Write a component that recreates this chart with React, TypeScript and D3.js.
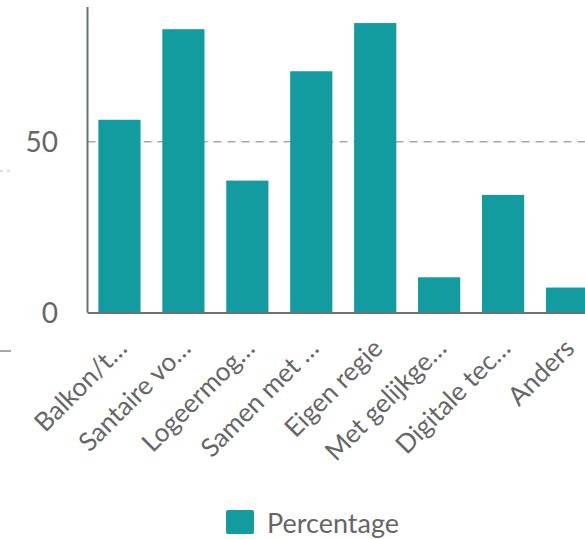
import React from "react";
import * as d3 from "d3";

const categories = [
  "Balkon/t…",
  "Santaire vo…",
  "Logeermog…",
  "Samen met …",
  "Eigen regie",
  "Met gelijkge…",
  "Digitale tec…",
  "Anders",
];
const percentages = [56.4, 82.9, 38.6, 70.6, 84.7, 10.3, 34.4, 7.3];
const yTicks = [0, 50];
const seriesName = "Percentage";

const W = 585;
const H = 539;
const BAR = "#129c9f";
const TEXT = "#666666";
const FONT = "Lato, 'Open Sans', sans-serif";

export default function App() {
  const x = d3
    .scaleBand<string>()
    .domain(categories)
    .range([87.5, 599])
    .paddingInner(0.34)
    .paddingOuter(0.17);
  const y = d3.scaleLinear().domain([0, 89.4]).range([312.5, 7]);

  return (
    <svg
      width={W}
      height={H}
      style={{ position: "absolute", left: 0, top: 0, background: "#fff" }}
    >
      {/* faint remnants at left edge */}
      <line x1={0} x2={11} y1={351} y2={351} stroke="#888" strokeWidth={1.5} />
      <line x1={0} x2={10} y1={171} y2={171} stroke="#bbb" strokeWidth={1} strokeDasharray="3 4" />

      {/* gridline */}
      {yTicks
        .filter((t) => t !== 0)
        .map((t) => (
          <line
            key={t}
            x1={87.5}
            x2={W}
            y1={y(t)}
            y2={y(t)}
            stroke="#a8a8a8"
            strokeWidth={1.5}
            strokeDasharray="8 6"
          />
        ))}

      {/* bars */}
      {categories.map((c, i) => (
        <rect
          key={c}
          x={x(c)}
          y={y(percentages[i])}
          width={x.bandwidth()}
          height={y(0) - y(percentages[i])}
          fill={BAR}
        />
      ))}

      {/* axes */}
      <line x1={87.5} x2={87.5} y1={7} y2={y(0)} stroke="#6b7275" strokeWidth={2} />
      <line x1={87.5} x2={W} y1={y(0) + 0.5} y2={y(0) + 0.5} stroke="#6b7275" strokeWidth={2} />

      {/* y tick labels */}
      {yTicks.map((t) => (
        <text
          key={t}
          x={58}
          y={y(t)}
          dy="0.36em"
          textAnchor="end"
          fontFamily={FONT}
          fontSize={28}
          fill={TEXT}
        >
          {t}
        </text>
      ))}

      {/* x tick labels */}
      {categories.map((c) => {
        const cx = (x(c) as number) + x.bandwidth() / 2 + 9;
        const cy = 350;
        return (
          <text
            key={c}
            transform={`translate(${cx},${cy}) rotate(-45)`}
            textAnchor="end"
            fontFamily={FONT}
            fontSize={26}
            fill={TEXT}
          >
            {c}
          </text>
        );
      })}

      {/* legend */}
      <rect x={226} y={510} width={28} height={24} rx={2} fill={BAR} />
      <text x={267} y={533} fontFamily={FONT} fontSize={27} fill={TEXT}>
        {seriesName}
      </text>
    </svg>
  );
}
